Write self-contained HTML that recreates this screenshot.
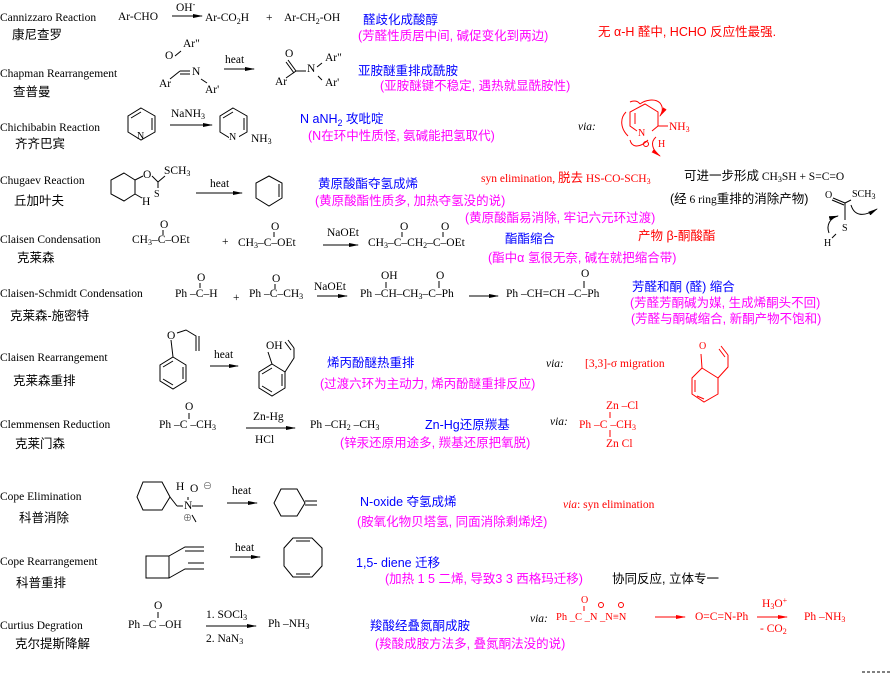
<!DOCTYPE html>
<html><head><meta charset="utf-8"><style>
html,body{margin:0;padding:0;background:#fff}
svg{display:block}
text{font-family:"Liberation Serif","Noto Serif CJK SC",serif;font-size:11.5px;fill:#000}
.c{font-family:"Liberation Sans","Noto Sans CJK SC",sans-serif;font-size:12.5px}
.b{fill:#0000ff}.m{fill:#ff00ff}.r{fill:#ff0000}
.s{font-size:8px}
.i{font-style:italic}
line,polyline,polygon,path,rect,circle{stroke:#000;stroke-width:1;fill:none}
.rl{stroke:#f00}
</style></head><body>
<svg width="892" height="674" viewBox="0 0 892 674" xmlns="http://www.w3.org/2000/svg">
<defs>
<marker id="a" viewBox="0 0 10 6" refX="9" refY="3" markerWidth="10" markerHeight="6" markerUnits="userSpaceOnUse" orient="auto"><path d="M0,1 L10,3 L0,5 Z" style="fill:#000;stroke:none"/></marker>
<marker id="ar" viewBox="0 0 10 6" refX="9" refY="3" markerWidth="10" markerHeight="6" markerUnits="userSpaceOnUse" orient="auto"><path d="M0,1 L10,3 L0,5 Z" style="fill:#f00;stroke:none"/></marker>
</defs>

<!-- Row1 Cannizzaro -->
<text x="0" y="21">Cannizzaro Reaction</text>
<text class="c" x="12" y="39">康尼查罗</text>
<text x="118" y="20">Ar-CHO</text>
<text x="176" y="11">OH<tspan class="s" dy="-4">-</tspan></text>
<line x1="172" y1="16" x2="202" y2="16" marker-end="url(#a)"/>
<text x="205" y="21">Ar-CO<tspan class="s" dy="3">2</tspan><tspan dy="-3">H</tspan></text>
<text x="266" y="21">+</text>
<text x="284" y="21">Ar-CH<tspan class="s" dy="3">2</tspan><tspan dy="-3">-OH</tspan></text>
<text class="c b" x="363" y="24">醛歧化成酸醇</text>
<text class="c m" x="358" y="40">(芳醛性质居中间, 碱促变化到两边)</text>
<text class="c r" x="598" y="36">无 α-H 醛中, HCHO 反应性最强.</text>

<!-- Row2 Chapman -->
<text x="0" y="77">Chapman Rearrangement</text>
<text class="c" x="13" y="96">查普曼</text>
<text x="165" y="59">O</text><text x="183" y="47">Ar"</text>
<line x1="175" y1="56" x2="181" y2="51"/>
<text x="159" y="87">Ar</text><text x="192" y="75">N</text><text x="205" y="93">Ar'</text>
<line x1="170" y1="79" x2="180" y2="71"/><line x1="180" y1="71" x2="190" y2="71"/><line x1="180" y1="74" x2="190" y2="74"/>
<line x1="201" y1="79" x2="207" y2="83"/>
<text x="225" y="63">heat</text>
<line x1="224" y1="69" x2="254" y2="69" marker-end="url(#a)"/>
<text x="285" y="57">O</text>
<line x1="288" y1="60" x2="296" y2="71"/><line x1="286" y1="62" x2="294" y2="73"/>
<text x="275" y="85">Ar</text><line x1="286" y1="78" x2="296" y2="71"/>
<line x1="296" y1="71" x2="306" y2="71"/>
<text x="307" y="72">N</text><text x="325" y="61">Ar"</text><text x="325" y="86">Ar'</text>
<line x1="317" y1="67" x2="322" y2="63"/><line x1="318" y1="76" x2="322" y2="80"/>
<text class="c b" x="358" y="75">亚胺醚重排成酰胺</text>
<text class="c m" x="380" y="90">(亚胺醚键不稳定, 遇热就显酰胺性)</text>

<!-- Row3 Chichibabin -->
<text x="0" y="131">Chichibabin Reaction</text>
<text class="c" x="15" y="148">齐齐巴宾</text>
<polygon points="141,108 155,116 155,132 141,140 128,132 128,116"/>
<line x1="152" y1="118" x2="152" y2="130"/><line x1="131" y1="118" x2="141" y2="112"/>
<text x="137" y="139" style="font-size:10px">N</text>
<text x="171" y="117">NaNH<tspan class="s" dy="2">3</tspan></text>
<line x1="170" y1="125" x2="212" y2="125" marker-end="url(#a)"/>
<polygon points="233,108 247,116 247,132 233,140 220,132 220,116"/>
<line x1="244" y1="118" x2="244" y2="130"/><line x1="223" y1="118" x2="233" y2="112"/>
<rect x="229" y="131" width="10" height="11" style="fill:#fff;stroke:none"/>
<text x="229" y="140" style="font-size:10px">N</text>
<text x="251" y="142">NH<tspan class="s" dy="2">3</tspan></text>
<text class="c b" x="300" y="123">N aNH<tspan style="font-size:9px" dy="3">2</tspan><tspan dy="-3"> 攻吡啶</tspan></text>
<text class="c m" x="308" y="140">(N在环中性质怪, 氨碱能把氢取代)</text>
<text class="i" x="578" y="130">via:</text>
<g>
<polyline class="rl" points="658,126 658,112 645,104 630,112 630,126 637,131"/>
<line class="rl" x1="635" y1="113" x2="635" y2="124"/>
<line class="rl" x1="658" y1="126" x2="668" y2="126"/>
<line class="rl" x1="652" y1="131" x2="658" y2="126"/>
<path class="rl" d="M640,104 C645,100 655,98 660,103 C664,108 662,113 660,116" marker-end="url(#ar)"/>
<path class="rl" d="M626,112 C620,118 620,128 628,136" />
<path class="rl" d="M630,102 C634,100 638,101 640,104"/>
<path class="rl" d="M648,140 C640,148 632,148 630,140" />
<path class="rl" d="M656,137 C650,142 652,150 660,156" marker-end="url(#ar)"/>
<circle class="rl" cx="646" cy="144" r="2.5"/>
</g>
<text class="r" x="638" y="136" style="font-size:10px">N</text>
<text class="r" x="669" y="130">NH<tspan class="s" dy="2">3</tspan></text>
<text class="r" x="658" y="147" style="font-size:10px">H</text>

<!-- Row4 Chugaev -->
<text x="0" y="184">Chugaev Reaction</text>
<text class="c" x="14" y="205">丘加叶夫</text>
<polygon points="124,173 135,180 135,194 124,201 111,194 111,180"/>
<line x1="135" y1="180" x2="143" y2="176"/><line x1="135" y1="194" x2="142" y2="198"/>
<text x="143" y="178">O</text><text x="164" y="174">SCH<tspan class="s" dy="2">3</tspan></text>
<line x1="152" y1="176" x2="158" y2="182"/><line x1="158" y1="182" x2="165" y2="176"/>
<line x1="158" y1="182" x2="158" y2="188"/>
<text x="154" y="197" style="font-size:10px">S</text><text x="142" y="205">H</text>
<text x="210" y="187">heat</text>
<line x1="196" y1="193" x2="242" y2="193" marker-end="url(#a)"/>
<polygon points="269,176 282,183 282,198 269,206 256,198 256,183"/>
<line x1="279" y1="184" x2="279" y2="197"/>
<text class="c b" x="318" y="188">黄原酸酯夺氢成烯</text>
<text class="c m" x="315" y="205">(黄原酸酯性质多, 加热夺氢没的说)</text>
<text class="r" x="481" y="182">syn elimination, <tspan class="c r">脱去</tspan> HS-CO-SCH<tspan class="s" dy="2">3</tspan></text>
<text x="684" y="180"><tspan class="c">可进一步形成</tspan> CH<tspan class="s" dy="2">3</tspan><tspan dy="-2">SH  +  S=C=O</tspan></text>
<text x="670" y="203"><tspan class="c">(经</tspan> 6 ring<tspan class="c">重排的消除产物)</tspan></text>
<text class="c m" x="465" y="222">(黄原酸酯易消除, 牢记六元环过渡)</text>
<text x="825" y="198" style="font-size:10px">O</text>
<text x="852" y="197" style="font-size:10px">SCH<tspan class="s" dy="2">3</tspan></text>
<line x1="833" y1="198" x2="845" y2="203"/><line x1="832" y1="200" x2="844" y2="205"/>
<line x1="845" y1="203" x2="851" y2="200"/><line x1="845" y1="203" x2="845" y2="220"/>
<text x="842" y="231" style="font-size:10px">S</text><text x="824" y="246" style="font-size:10px">H</text>
<line x1="832" y1="238" x2="836" y2="234"/>
<path d="M829,233 C826,225 830,218 838,216" marker-end="url(#a)"/>
<path d="M851,205 C854,215 862,218 877,209" marker-end="url(#a)"/>

<!-- Row5 Claisen Condensation -->
<text x="0" y="243">Claisen Condensation</text>
<text class="c" x="17" y="262">克莱森</text>
<text x="132" y="243">CH<tspan class="s" dy="2">3</tspan><tspan dy="-2">–C–OEt</tspan></text>
<text x="160" y="228">O</text><line x1="163" y1="230" x2="163" y2="235"/>
<text x="222" y="245">+</text>
<text x="238" y="246">CH<tspan class="s" dy="2">3</tspan><tspan dy="-2">–C–OEt</tspan></text>
<text x="271" y="230">O</text><line x1="274" y1="232" x2="274" y2="237"/>
<text x="327" y="236">NaOEt</text>
<line x1="323" y1="245" x2="358" y2="245" marker-end="url(#a)"/>
<text x="368" y="246">CH<tspan class="s" dy="2">3</tspan><tspan dy="-2">–C–CH</tspan><tspan class="s" dy="2">2</tspan><tspan dy="-2">–C–OEt</tspan></text>
<text x="400" y="230">O</text><line x1="402" y1="232" x2="402" y2="237"/>
<text x="441" y="230">O</text><line x1="443" y1="232" x2="443" y2="237"/>
<text class="c b" x="505" y="243">酯酯缩合</text>
<text class="c m" x="488" y="262">(酯中α 氢很无奈, 碱在就把缩合带)</text>
<text class="c r" x="638" y="240">产物 β-酮酸酯</text>

<!-- Row6 Claisen-Schmidt -->
<text x="0" y="297">Claisen-Schmidt Condensation</text>
<text class="c" x="10" y="320">克莱森-施密特</text>
<text x="175" y="297">Ph –C–H</text><text x="197" y="281">O</text><line x1="200" y1="283" x2="200" y2="288"/>
<text x="233" y="301">+</text>
<text x="249" y="297">Ph –C–CH<tspan class="s" dy="2">3</tspan></text><text x="272" y="282">O</text><line x1="275" y1="284" x2="275" y2="289"/>
<text x="314" y="290">NaOEt</text>
<line x1="317" y1="296" x2="347" y2="296" marker-end="url(#a)"/>
<text x="360" y="297">Ph –CH–CH<tspan class="s" dy="2">3</tspan><tspan dy="-2">–C–Ph</tspan></text>
<text x="381" y="279">OH</text><line x1="386" y1="282" x2="386" y2="288"/>
<text x="436" y="279">O</text><line x1="439" y1="281" x2="439" y2="288"/>
<line x1="469" y1="296" x2="498" y2="296" marker-end="url(#a)"/>
<text x="506" y="297">Ph –CH=CH –C–Ph</text>
<text x="581" y="277">O</text><line x1="584" y1="281" x2="584" y2="288"/>
<text class="c b" x="632" y="291">芳醛和酮 (醛) 缩合</text>
<text class="c m" x="630" y="307">(芳醛芳酮碱为媒, 生成烯酮头不回)</text>
<text class="c m" x="631" y="323">(芳醛与酮碱缩合, 新酮产物不饱和)</text>

<!-- Row7 Claisen Rearrangement -->
<text x="0" y="361">Claisen Rearrangement</text>
<text class="c" x="13" y="385">克莱森重排</text>
<polygon points="173,357 186,365 186,381 173,389 160,381 160,365"/>
<line x1="183" y1="367" x2="183" y2="379"/><line x1="163" y1="379" x2="173" y2="385"/><line x1="163" y1="367" x2="173" y2="361"/>
<line x1="173" y1="357" x2="171" y2="340"/>
<text x="167" y="339">O</text>
<polyline points="177,333 186,330 196,336 196,351"/><line x1="199" y1="336" x2="199" y2="351"/>
<text x="214" y="358">heat</text>
<line x1="210" y1="366" x2="238" y2="366" marker-end="url(#a)"/>
<polygon points="272,364 285,372 285,388 272,396 259,388 259,372"/>
<line x1="282" y1="374" x2="282" y2="386"/><line x1="262" y1="386" x2="272" y2="392"/><line x1="262" y1="374" x2="272" y2="368"/>
<line x1="272" y1="364" x2="268" y2="352"/><text x="266" y="349">OH</text>
<polyline points="285,372 294,358 294,348"/><line x1="294" y1="348" x2="288" y2="340"/><line x1="291" y1="350" x2="285" y2="342"/>
<text class="c b" x="327" y="367">烯丙酚醚热重排</text>
<text class="c m" x="320" y="388">(过渡六环为主动力, 烯丙酚醚重排反应)</text>
<text class="i" x="546" y="367">via:</text>
<text class="r" x="585" y="367">[3,3]-σ migration</text>
<text class="r" x="699" y="349" style="font-size:10px">O</text>
<g>
<polygon class="rl" points="702,368 718,378 718,394 704,402 692,394 692,378"/>
<line class="rl" x1="695" y1="380" x2="695" y2="392"/><line class="rl" x1="697" y1="396" x2="704" y2="399"/>
<line class="rl" x1="702" y1="368" x2="701" y2="354"/>
<polyline class="rl" points="718,378 728,367 728,355"/><line class="rl" x1="728" y1="355" x2="721" y2="346"/><line class="rl" x1="725" y1="357" x2="719" y2="349"/>
</g>

<!-- Row8 Clemmensen -->
<text x="0" y="428">Clemmensen Reduction</text>
<text class="c" x="15" y="448">克莱门森</text>
<text x="159" y="428">Ph –C –CH<tspan class="s" dy="2">3</tspan></text>
<text x="185" y="410">O</text><line x1="189" y1="413" x2="189" y2="419"/>
<text x="253" y="420">Zn-Hg</text>
<line x1="246" y1="428" x2="295" y2="428" marker-end="url(#a)"/>
<text x="255" y="443">HCl</text>
<text x="310" y="428">Ph –CH<tspan class="s" dy="2">2</tspan><tspan dy="-2"> –CH</tspan><tspan class="s" dy="2">3</tspan></text>
<text class="c b" x="425" y="429">Zn-Hg还原羰基</text>
<text class="c m" x="340" y="447">(锌汞还原用途多, 羰基还原把氧脱)</text>
<text class="i" x="550" y="425">via:</text>
<text class="r" x="606" y="409">Zn –Cl</text>
<text class="r" x="579" y="428">Ph –C –CH<tspan class="s" dy="2">3</tspan></text>
<text class="r" x="606" y="447">Zn Cl</text>
<line class="rl" x1="610" y1="412" x2="610" y2="418"/><line class="rl" x1="610" y1="430" x2="610" y2="437"/>

<!-- Row9 Cope Elimination -->
<text x="0" y="500">Cope Elimination</text>
<text class="c" x="19" y="522">科普消除</text>
<polygon points="143,482 162,482 170,497 162,510 143,510 137,497"/>
<line x1="170" y1="497" x2="177" y2="506"/><line x1="177" y1="506" x2="183" y2="506"/>
<text x="176" y="490">H</text><text x="190" y="492">O</text><text x="203" y="489" style="font-size:9px">⊖</text>
<text x="184" y="509">N</text><line x1="192" y1="506" x2="203" y2="506"/><line x1="188" y1="497" x2="188" y2="500"/>
<text x="183" y="521" style="font-size:9px">⊕</text><line x1="192" y1="515" x2="196" y2="522"/>
<text x="232" y="494">heat</text>
<line x1="227" y1="503" x2="257" y2="503" marker-end="url(#a)"/>
<polygon points="281,489 297,489 305,503 297,516 281,516 274,503"/>
<line x1="305" y1="501" x2="317" y2="501"/><line x1="305" y1="505" x2="317" y2="505"/>
<text class="c b" x="360" y="506">N-oxide 夺氢成烯</text>
<text class="c m" x="357" y="526">(胺氧化物贝塔氢, 同面消除剩烯烃)</text>
<text class="r" x="563" y="508"><tspan class="i">via</tspan>:  syn elimination</text>

<!-- Row10 Cope Rearrangement -->
<text x="0" y="565">Cope Rearrangement</text>
<text class="c" x="16" y="587">科普重排</text>
<rect x="146" y="556" width="23" height="22"/>
<polyline points="169,556 185,547 204,547"/><line x1="185" y1="551" x2="204" y2="551"/>
<polyline points="169,578 185,569 204,569"/><line x1="188" y1="563" x2="204" y2="563"/>
<text x="235" y="551">heat</text>
<line x1="230" y1="557" x2="260" y2="557" marker-end="url(#a)"/>
<polygon points="293,538 312,538 322,548 322,566 312,577 293,577 284,566 284,548"/>
<line x1="296" y1="541" x2="310" y2="541"/><line x1="296" y1="574" x2="310" y2="574"/>
<text class="c b" x="356" y="567">1,5- diene 迁移</text>
<text class="c m" x="385" y="583">(加热 1 5 二烯, 导致3 3 西格玛迁移)</text>
<text class="c" x="612" y="583">协同反应, 立体专一</text>

<!-- Row11 Curtius -->
<text x="0" y="629">Curtius Degration</text>
<text class="c" x="15" y="648">克尔提斯降解</text>
<text x="128" y="628">Ph –C –OH</text>
<text x="154" y="609">O</text><line x1="158" y1="612" x2="158" y2="618"/>
<text x="206" y="618">1. SOCl<tspan class="s" dy="2">3</tspan></text>
<line x1="206" y1="626" x2="256" y2="626" marker-end="url(#a)"/>
<text x="206" y="642">2. NaN<tspan class="s" dy="2">3</tspan></text>
<text x="268" y="627">Ph –NH<tspan class="s" dy="2">3</tspan></text>
<text class="c b" x="370" y="630">羧酸经叠氮酮成胺</text>
<text class="c m" x="375" y="648">(羧酸成胺方法多, 叠氮酮法没的说)</text>
<text class="i" x="530" y="622">via:</text>
<text class="r" x="556" y="620" style="font-size:10.5px">Ph _C _N _N≡N</text>
<text class="r" x="581" y="603" style="font-size:10px">O</text>
<line class="rl" x1="584" y1="606" x2="584" y2="611"/>
<circle class="rl" cx="601" cy="605" r="2.5"/><circle class="rl" cx="621" cy="605" r="2.5"/>
<line class="rl" x1="655" y1="617" x2="685" y2="617" marker-end="url(#ar)"/>
<text class="r" x="695" y="620">O=C=N-Ph</text>
<text class="r" x="762" y="607">H<tspan class="s" dy="2">3</tspan><tspan dy="-2">O</tspan><tspan class="s" dy="-4">+</tspan></text>
<line class="rl" x1="757" y1="617" x2="787" y2="617" marker-end="url(#ar)"/>
<text class="r" x="760" y="632">- CO<tspan class="s" dy="2">2</tspan></text>
<text class="r" x="804" y="620">Ph –NH<tspan class="s" dy="2">3</tspan></text>
<line x1="862" y1="672" x2="892" y2="672" style="stroke-dasharray:3,2"/>
</svg>
</body></html>
